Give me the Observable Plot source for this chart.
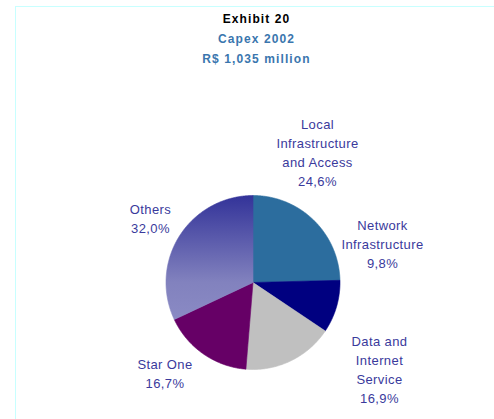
<!DOCTYPE html>
<html>
<head>
<meta charset="utf-8">
<script src="https://cdn.jsdelivr.net/npm/d3@7"></script>
<script src="https://cdn.jsdelivr.net/npm/@observablehq/plot@0.6"></script>
<style>
  html, body { margin: 0; padding: 0; background: #ffffff; }
  #wrap { position: relative; width: 494px; height: 419px; overflow: hidden; font-family: "Liberation Sans", Arial, sans-serif; }
  #frame { position: absolute; left: 15px; top: 6px; right: -4px; bottom: -4px; border-top: 1px solid #c8ffff; border-left: 1px solid #c8ffff; }
  #titles { position: absolute; left: 0; top: 8.5px; width: 513px; text-align: center; font-weight: bold; font-size: 12px; letter-spacing: 1.1px; line-height: 20px; }
  #titles .t1 { color: #000000; }
  #titles .t2 { color: #3a76ae; }
  #chart { position: absolute; left: 0; top: 0; }
</style>
</head>
<body>
<div id="wrap">
  <div id="frame"></div>
  <div id="titles">
    <div class="t1">Exhibit 20</div>
    <div class="t2">Capex 2002</div>
    <div class="t2">R$ 1,035 million</div>
  </div>
  <div id="chart"></div>
</div>
<script>
// ---- data ----
const categories = ["Local\nInfrastructure\nand Access", "Network\nInfrastructure", "Data and\nInternet\nService", "Star One", "Others"];
const shares = [24.6, 9.8, 16.9, 16.7, 32.0];

// ---- styling / layout ----
const sliceColors = ["#2c6d9e", "#000080", "#c0c0c0", "#660066", "url(#othersGrad)"];
const labelColor = "#3a3a9c";
const W = 494, H = 419;
const cx = 252.5, cy = 282, R = 87;
// label block centre offsets from the pie centre (px)
const labelOffsets = [[64.5, -131.5], [129.5, -40], [126.5, 86], [-88, 90], [-102.5, -65.5]];

const arcs = d3.pie().sort(null).value(d => d)(shares);

function slicePoints(a) {
  const pts = [{x: cx, y: cy}];
  const n = Math.max(2, Math.ceil((a.endAngle - a.startAngle) / (Math.PI / 360)));
  for (let i = 0; i <= n; i++) {
    const t = a.startAngle + (a.endAngle - a.startAngle) * i / n;
    pts.push({x: cx + R * Math.sin(t), y: cy - R * Math.cos(t)});
  }
  pts.push({x: cx, y: cy});
  return pts;
}

const labels = categories.map((c, i) => ({
  text: c + "\n" + shares[i].toFixed(1).replace(".", ",") + "%",
  x: cx + labelOffsets[i][0],
  y: cy + labelOffsets[i][1]
}));

const sliceMarks = arcs.map((a, i) =>
  Plot.line(slicePoints(a), {x: "x", y: "y", fill: sliceColors[i], stroke: sliceColors[i], strokeWidth: 0.6, curve: "linear"})
);

const svg = Plot.plot({
  width: W,
  height: H,
  margin: 0,
  x: {domain: [0, W], range: [0, W], axis: null},
  y: {domain: [0, H], range: [0, H], axis: null},
  style: {background: "transparent", fontFamily: "'Liberation Sans', Arial, sans-serif", letterSpacing: "0.4px"},
  marks: [
    ...sliceMarks,
    Plot.text(labels, {x: "x", y: "y", text: "text", fill: labelColor, fontSize: 13, lineHeight: 19 / 13, textAnchor: "middle", lineAnchor: "middle"})
  ]
});

const defs = d3.select(svg).insert("defs", ":first-child");
const g = defs.append("linearGradient").attr("id", "othersGrad").attr("gradientUnits", "userSpaceOnUse")
  .attr("x1", 0).attr("y1", cy - R).attr("x2", 0).attr("y2", cy + 37);
g.append("stop").attr("offset", 0).attr("stop-color", "#333399");
g.append("stop").attr("offset", 0.7).attr("stop-color", "#8282be");
g.append("stop").attr("offset", 1).attr("stop-color", "#8a8ac4");

document.getElementById("chart").appendChild(svg);
</script>
</body>
</html>
